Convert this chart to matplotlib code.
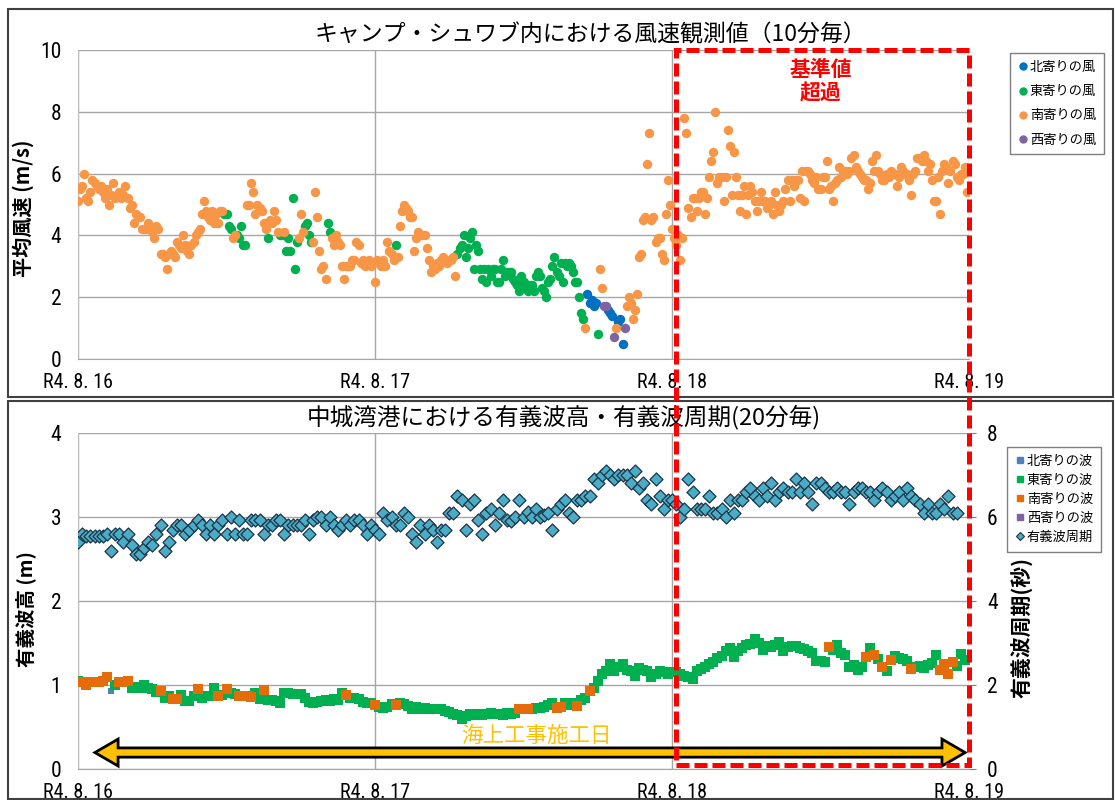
import numpy as np
import matplotlib
matplotlib.use('Agg')
import matplotlib.pyplot as plt
from matplotlib import font_manager
from matplotlib.patches import Rectangle, Polygon
from matplotlib.lines import Line2D

JP = 'Noto Sans CJK JP'
_names = {f.name for f in font_manager.fontManager.ttflist}
NUM = 'Liberation Sans'
for _cand in ['Liberation Sans Narrow', 'Roboto Condensed', 'Open Sans Condensed']:
    if _cand in _names:
        NUM = _cand
        break
plt.rcParams['font.family'] = [JP, 'DejaVu Sans']

# ---------------- data ----------------
x_tick_labels = ['R4. 8. 16', 'R4. 8. 17', 'R4. 8. 18', 'R4. 8. 19']
title_wind = 'キャンプ・シュワブ内における風速観測値（10分毎）'
title_wave = '中城湾港における有義波高・有義波周期(20分毎)'

wind_labels = {'N': '北寄りの風', 'E': '東寄りの風', 'S': '南寄りの風', 'W': '西寄りの風'}
wave_labels = {'N': '北寄りの波', 'E': '東寄りの波', 'S': '南寄りの波', 'W': '西寄りの波'}
period_label = '有義波周期'

# 10-minute mean wind speed (m/s), two hours per row
wind_day1 = [5.1, 5.5, 5.6, 6.0, 5.2, 5.1, 5.4, 5.8, 5.7, 5.6, 5.5, 5.6,
             5.4, 5.2, 5.5, 5.0, 5.3, 5.7, 5.2, 5.3, 5.4, 5.2, 5.3, 5.6,
             5.2, 4.9, 5.0, 4.4, 4.7, 4.6, 4.6, 4.2, 4.2, 4.2, 4.4, 4.3,
             4.1, 3.9, 4.3, 4.2, 3.4, 3.4, 3.3, 2.9, 3.4, 3.5, 3.4, 3.3,
             3.8, 3.7, 3.6, 4.0, 3.7, 3.5, 3.4, 3.7, 3.8, 4.0, 4.1, 4.2,
             4.7, 5.1, 4.8, 4.6, 4.5, 4.8, 4.4, 4.7, 4.4, 4.8, 4.8, 4.7,
             4.7, 4.3, 4.2, 3.9, 4.0, 4.0, 3.9, 4.3, 3.7, 3.7, 5.0, 5.0,
             5.7, 5.4, 4.7, 5.0, 4.9, 4.8, 4.4, 4.2, 3.9, 4.5, 4.4, 4.8,
             4.5, 4.1, 4.0, 4.0, 4.1, 3.5, 3.9, 3.5, 5.2, 2.9, 3.8, 3.9,
             4.7, 4.1, 4.3, 4.4, 4.0, 3.8, 3.8, 5.4, 4.6, 3.5, 2.9, 3.0,
             2.6, 4.4, 4.1, 3.9, 3.7, 4.0, 3.8, 3.7, 3.0, 2.6, 3.0, 3.0,
             3.0, 3.2, 3.2, 3.8, 3.7, 3.1, 3.2, 3.0, 3.1, 3.2, 3.0, 3.1]
wind_dir_day1 = ['SSSSSS', 'SSSSSS', 'SSSSSS', 'SSSSSS', 'SSSSSS', 'SSSSSS',
                 'SSSSSS', 'SSSSSS', 'SSSSSS', 'SSSSSS', 'SSSSSS', 'SSSSSE',
                 'EEESSE', 'EEEESS', 'SSSSSS', 'SSESSS', 'SSEESE', 'EEEEES',
                 'SSEEEE', 'SSSSSS', 'SEESSS', 'SSSSSE', 'SSSSSS', 'SSSSSS']

wind_day2 = [2.5, 3.2, 3.1, 3.0, 3.2, 3.0, 3.8, 3.5, 3.4, 3.2, 3.7, 3.3,
             4.3, 4.8, 5.0, 4.9, 4.8, 4.6, 4.6, 3.5, 3.9, 4.1, 4.0, 4.0,
             4.0, 3.6, 3.2, 2.8, 3.0, 2.9, 3.1, 3.0, 3.2, 3.3, 3.2, 3.1,
             3.2, 3.2, 3.3, 2.7, 3.4, 3.6, 3.7, 4.0, 3.3, 3.6, 3.9, 4.1,
             2.9, 3.7, 3.5, 2.9, 2.6, 2.9, 2.5, 2.9, 2.7, 2.9, 2.9, 2.5,
             2.5, 2.9, 3.2, 2.7, 2.8, 2.8, 2.8, 2.6, 2.5, 2.4, 2.2, 2.7,
             2.5, 2.3, 2.2, 2.4, 2.4, 2.2, 2.7, 2.8, 2.7, 2.3, 2.2, 2.0,
             2.5, 2.6, 3.0, 3.3, 2.8, 2.7, 3.1, 2.5, 3.1, 3.0, 3.1, 3.0,
             2.8, 2.5, 2.5, 2.0, 1.5, 1.3, 1.0, 2.1, 1.8, 1.9, 1.7, 1.8,
             0.8, 2.9, 2.3, 1.7, 1.7, 1.6, 1.5, 1.4, 0.7, 1.0, 1.2, 1.3,
             0.5, 1.0, 1.7, 2.0, 1.8, 1.3, 1.6, 2.1, 3.3, 3.4, 4.5, 4.6,
             6.3, 7.3, 4.5, 4.6, 3.8, 3.9, 3.9, 3.4, 3.2, 4.7, 5.8, 5.0]
wind_dir_day2 = ['SSSSSS', 'SSSSES', 'SSSSSS', 'SSSSSS', 'SSSSSS', 'SSSSSS',
                 'SSSSEE', 'EEEEEE', 'EEEEEE', 'EEEEEE', 'EEEEEE', 'EEEEEE',
                 'EEEEEE', 'EEEEEE', 'EEEEEE', 'EEEEEE', 'EEEEEE', 'SNNNNN',
                 'ESSWWN', 'NNWSNN', 'NWSSSS', 'SSSSSS', 'SSSSSS', 'SSSSSS']

wind_day3 = [4.2, 3.9, 3.7, 4.0, 3.2, 3.9, 7.8, 7.3, 4.9, 4.6, 5.2, 5.2,
             4.8, 5.2, 5.4, 5.4, 4.7, 5.2, 5.9, 6.4, 6.7, 8.0, 5.7, 5.9,
             5.9, 5.1, 5.9, 7.4, 6.9, 5.3, 6.7, 5.9, 5.3, 4.8, 5.3, 5.6,
             4.7, 5.3, 5.6, 5.4, 5.1, 4.8, 5.1, 5.4, 5.1, 5.1, 4.9, 5.0,
             5.1, 4.7, 5.4, 5.0, 4.8, 5.0, 5.1, 5.5, 5.8, 5.1, 5.8, 5.6,
             5.8, 5.8, 5.2, 6.1, 5.1, 6.1, 6.1, 6.0, 5.8, 5.7, 5.9, 5.5,
             5.5, 5.9, 5.9, 6.4, 5.5, 5.6, 5.1, 5.7, 5.8, 6.2, 5.9, 6.1,
             6.1, 6.0, 6.1, 6.5, 6.6, 6.2, 6.1, 6.0, 5.9, 5.8, 5.8, 5.5,
             5.7, 6.4, 6.1, 6.6, 6.1, 6.0, 5.8, 5.8, 6.0, 5.9, 6.1, 6.0,
             6.0, 5.6, 5.9, 6.2, 6.1, 6.0, 6.0, 5.8, 5.3, 6.0, 6.1, 6.5,
             6.5, 6.4, 6.6, 6.4, 6.1, 6.3, 5.8, 5.1, 5.1, 5.9, 4.7, 6.1,
             6.3, 6.2, 5.7, 6.1, 6.4, 6.3, 5.9, 5.8, 6.0, 6.0, 6.2, 5.4]
wind_dir_day3 = ['SSSSSS'] * 24

# 20-minute significant wave height (m) and wave direction, four hours per row
wave_day1 = [1.05, 1.03, 1.00, 1.03, 1.03, 1.04, 1.05, 1.09, 0.93, 1.00, 1.03, 1.04,
             1.05, 0.97, 0.98, 0.97, 1.00, 0.97, 0.95, 0.92, 0.93, 0.85, 0.87, 0.83,
             0.83, 0.88, 0.81, 0.81, 0.87, 0.95, 0.85, 0.87, 0.87, 0.96, 0.87, 0.88,
             0.95, 0.90, 0.89, 0.87, 0.87, 0.87, 0.86, 0.91, 0.83, 0.94, 0.82, 0.82,
             0.81, 0.79, 0.90, 0.90, 0.89, 0.89, 0.89, 0.85, 0.80, 0.79, 0.80, 0.81,
             0.82, 0.81, 0.83, 0.82, 0.90, 0.88, 0.85, 0.84, 0.83, 0.80, 0.78, 0.78]
wave_dir_day1 = ['ESSSSSSSNESS', 'SEEEEEEESEES', 'SEEEESEEEESE',
                 'SEESSSSEESEE', 'EEEEEEEEEEEE', 'EEEEESEEEEEE']
wave_day2 = [0.76, 0.74, 0.73, 0.74, 0.77, 0.76, 0.78, 0.77, 0.75, 0.71, 0.74, 0.72,
             0.73, 0.72, 0.71, 0.72, 0.71, 0.69, 0.68, 0.66, 0.64, 0.60, 0.63, 0.65,
             0.64, 0.65, 0.64, 0.65, 0.67, 0.66, 0.65, 0.64, 0.67, 0.66, 0.67, 0.71,
             0.71, 0.71, 0.71, 0.73, 0.73, 0.74, 0.76, 0.78, 0.73, 0.74, 0.78, 0.76,
             0.78, 0.75, 0.82, 0.84, 0.93, 0.97, 1.05, 1.13, 1.17, 1.25, 1.17, 1.21,
             1.25, 1.18, 1.17, 1.11, 1.20, 1.18, 1.17, 1.10, 1.13, 1.17, 1.15, 1.13]
wave_dir_day2 = ['SEEEESEEEEEE', 'EEEEEEEEEEEE', 'EEEEEEEEEEES',
                 'SSEEEEEESSEE', 'ESEESEEEEEEE', 'EEEEEEEEEEEE']
wave_day3 = [1.15, 1.15, 1.13, 1.11, 1.09, 1.07, 1.17, 1.19, 1.21, 1.25, 1.27, 1.32,
             1.34, 1.40, 1.44, 1.33, 1.40, 1.44, 1.48, 1.49, 1.55, 1.50, 1.42, 1.46,
             1.45, 1.48, 1.51, 1.40, 1.45, 1.47, 1.46, 1.44, 1.43, 1.40, 1.38, 1.29,
             1.28, 1.27, 1.45, 1.42, 1.48, 1.38, 1.36, 1.22, 1.24, 1.18, 1.22, 1.33,
             1.44, 1.36, 1.31, 1.22, 1.17, 1.30, 1.34, 1.32, 1.31, 1.29, 1.19, 1.22,
             1.23, 1.20, 1.24, 1.26, 1.36, 1.18, 1.25, 1.13, 1.27, 1.23, 1.37, 1.30]
wave_dir_day3 = ['EEEEEEEEEEEE', 'EEEEEEEEEEEE', 'EEEEEEEEEEEE',
                 'EESEEEEEEEES', 'ESESESEEEESE', 'EEEEESSSSEEE']

# 20-minute significant wave period (s)
period_day1 = [5.4, 5.6, 5.55, 5.55, 5.55, 5.55, 5.55, 5.6, 5.2, 5.6, 5.6, 5.4,
               5.6, 5.33, 5.13, 5.13, 5.26, 5.4, 5.33, 5.6, 5.8, 5.2, 5.4, 5.7,
               5.8, 5.82, 5.6, 5.7, 5.82, 5.92, 5.8, 5.6, 5.8, 5.6, 5.8, 5.92,
               5.6, 6.0, 5.6, 5.92, 5.6, 5.6, 5.92, 5.92, 5.92, 5.6, 5.8, 5.8,
               5.92, 5.92, 5.6, 5.8, 5.8, 5.8, 5.8, 5.92, 5.6, 5.92, 6.0, 6.0,
               5.8, 6.0, 5.8, 5.7, 5.8, 5.92, 5.8, 5.92, 5.92, 5.8, 5.6, 5.8]
period_day2 = [5.7, 5.6, 6.1, 5.92, 6.0, 5.8, 5.8, 6.1, 6.0, 5.6, 5.4, 5.8,
               5.6, 5.8, 5.7, 5.4, 5.7, 5.7, 6.1, 6.1, 6.5, 6.4, 5.7, 6.3,
               6.4, 5.92, 5.6, 6.1, 6.2, 5.8, 6.1, 6.4, 5.92, 5.9, 6.0, 6.4,
               6.0, 6.13, 6.0, 6.2, 6.0, 6.05, 6.1, 5.7, 6.2, 6.3, 6.4, 6.1,
               6.0, 6.4, 6.4, 6.5, 6.5, 6.9, 6.8, 7.0, 7.1, 7.0, 6.9, 7.0,
               7.0, 7.0, 6.8, 7.1, 6.7, 6.8, 6.4, 6.3, 6.9, 6.5, 6.2, 6.4]
period_day3 = [6.4, 6.3, 6.0, 6.2, 6.9, 6.6, 6.2, 6.2, 6.2, 6.5, 6.1, 6.1,
               6.2, 6.0, 6.4, 6.1, 6.4, 6.4, 6.6, 6.7, 6.5, 6.4, 6.7, 6.5,
               6.8, 6.4, 6.6, 6.7, 6.6, 6.6, 6.9, 6.6, 6.8, 6.6, 6.3, 6.8,
               6.8, 6.7, 6.6, 6.6, 6.7, 6.6, 6.6, 6.3, 6.6, 6.7, 6.7, 6.6,
               6.6, 6.4, 6.6, 6.7, 6.6, 6.4, 6.5, 6.6, 6.4, 6.7, 6.5, 6.4,
               6.3, 6.1, 6.3, 6.1, 6.1, 6.3, 6.2, 6.5, 6.1, 6.1]

wind_colors = {'N': '#0070C0', 'E': '#00B050', 'S': '#F79646', 'W': '#8064A2'}
wave_colors = {'N': '#4F81BD', 'E': '#00B050', 'S': '#E46C0A', 'W': '#8064A2'}

# ---------------- assemble ----------------
def days_series(day_lists, per_day):
    xs, ys = [], []
    for d, vals in enumerate(day_lists):
        xs.append(d + np.arange(len(vals)) / per_day)
        ys.append(np.asarray(vals, float))
    return np.concatenate(xs), np.concatenate(ys)

def codes(*day_rows):
    return np.array(list(''.join(''.join(r) for r in day_rows)))

wind_x, wind_v = days_series([wind_day1, wind_day2, wind_day3], 144)
wind_d = codes(wind_dir_day1, wind_dir_day2, wind_dir_day3)
wave_x, wave_h = days_series([wave_day1, wave_day2, wave_day3], 72)
wave_d = codes(wave_dir_day1, wave_dir_day2, wave_dir_day3)
per_x, per_v = days_series([period_day1, period_day2, period_day3], 72)

W, H = 1115, 800
fig = plt.figure(figsize=(W / 100, H / 100), dpi=100)
fig.patch.set_facecolor('white')

ax1 = fig.add_axes([78 / W, 1 - 359 / H, 891 / W, 309 / H])
ax2 = fig.add_axes([78 / W, 1 - 769 / H, 891 / W, 336 / H])
ax2r = ax2.twinx()

GRID = '#A6A6A6'
TICKFONT = dict(family=[NUM, JP], fontsize=14.5)
for ax in (ax1, ax2):
    ax.set_xlim(0, 3)
    ax.set_xticks([0, 1, 2, 3])
    ax.set_xticklabels(x_tick_labels, **TICKFONT)
    ax.grid(True, color=GRID, lw=1.0)
    ax.set_axisbelow(True)
    ax.tick_params(axis='both', length=0)
    ax.tick_params(axis='x', pad=10)
    ax.tick_params(axis='y', pad=12)
    for s in ('top', 'right'):
        ax.spines[s].set_visible(False)
    ax.spines['left'].set_color('#BFBFBF')
    ax.spines['bottom'].set_color(GRID)

ax1.set_ylim(0, 10)
ax1.set_yticks(range(0, 11, 2))
ax1.set_yticklabels([str(v) for v in range(0, 11, 2)], family=[NUM, JP], fontsize=15.5)
ax2.set_ylim(0, 4)
ax2.set_yticks(range(0, 5))
ax2.set_yticklabels([str(v) for v in range(0, 5)], family=[NUM, JP], fontsize=15.5)
ax2r.set_ylim(0, 8)
ax2r.set_yticks(range(0, 9, 2))
ax2r.set_yticklabels([str(v) for v in range(0, 9, 2)], family=[NUM, JP], fontsize=15.5)
ax2r.tick_params(axis='y', length=5, color='#7F7F7F', pad=8)
for s in ('top', 'left', 'bottom', 'right'):
    ax2r.spines[s].set_visible(False)

# wind scatter
wind_handles = []
for code in ['N', 'E', 'S', 'W']:
    m = wind_d == code
    ax1.scatter(wind_x[m], wind_v[m], s=46, color=wind_colors[code], linewidths=0, zorder=3)
    wind_handles.append(Line2D([], [], ls='', marker='o', ms=5, color=wind_colors[code],
                               label=wind_labels[code]))

# wave scatter
wave_handles = []
for code in ['N', 'E', 'S', 'W']:
    m = wave_d == code
    ax2.scatter(wave_x[m], wave_h[m], s=(16 if code == 'N' else 48), marker='s',
                color=wave_colors[code], linewidths=0, zorder=3)
    wave_handles.append(Line2D([], [], ls='', marker='s', ms=5, color=wave_colors[code],
                               label=wave_labels[code]))
ax2r.scatter(per_x, per_v, s=44, marker='D', facecolor='#4BACC6', edgecolor='#1C3346',
             linewidths=0.9, zorder=4)
wave_handles.append(Line2D([], [], ls='', marker='D', ms=4.5, markerfacecolor='#4BACC6',
                           markeredgecolor='#1C3346', markeredgewidth=0.8, label=period_label))

# axis labels
ax1.set_ylabel('平均風速 (m/s)', fontsize=14.5, fontweight='bold')
ax1.yaxis.set_label_coords((34 - 78) / 891, (359 - 208) / 309)
ax2.set_ylabel('有義波高 (m)', fontsize=14, fontweight='bold')
ax2.yaxis.set_label_coords((36 - 78) / 891, (769 - 609) / 336)
ax2r.set_ylabel('有義波周期(秒)', fontsize=15, fontweight='bold', rotation=90)
ax2r.yaxis.set_label_coords((1011 - 78) / 891, (769 - 627) / 336)

# titles
fig.text(590 / W, 1 - 35 / H, title_wind, ha='center', va='center', fontsize=16.5)
fig.text(564 / W, 1 - 418 / H, title_wave, ha='center', va='center', fontsize=17)

# legends
leg_kw = dict(loc='upper left', frameon=True, fancybox=False, edgecolor='#7F7F7F',
              fontsize=9.5, handletextpad=0.1, handlelength=0.8, borderpad=0.6,
              borderaxespad=0, framealpha=1)
l1 = fig.legend(handles=wind_handles, bbox_to_anchor=(1010 / W, 1 - 53 / H),
                labelspacing=0.85, **leg_kw)
l2 = fig.legend(handles=wave_handles, bbox_to_anchor=(1007 / W, 1 - 447 / H),
                labelspacing=0.45, **leg_kw)
for l in (l1, l2):
    l.get_frame().set_linewidth(1.0)

# construction-day arrow (double headed) in data coords of ax2
x0, x1 = 0.057, 2.987
yc, bh, hh, hl = 0.196, 0.055, 0.16, 0.078
arrow_pts = [(x0, yc), (x0 + hl, yc + hh), (x0 + hl, yc + bh), (x1 - hl, yc + bh),
             (x1 - hl, yc + hh), (x1, yc), (x1 - hl, yc - hh), (x1 - hl, yc - bh),
             (x0 + hl, yc - bh), (x0 + hl, yc - hh)]
ax2.add_patch(Polygon(arrow_pts, closed=True, facecolor='#FFC000', edgecolor='black',
                      lw=2.0, zorder=5, clip_on=False))
ax2.text(1.545, 0.40, '海上工事施工日', color='#FFC000', fontsize=15.5, ha='center',
         va='center', zorder=6)

# red "exceeded" box spanning both panels
fig.canvas.draw()
inv = fig.transFigure.inverted()
p_bl = inv.transform(ax2.transData.transform((2.012, 0.05)))
p_tr = inv.transform(ax1.transData.transform((3.0, 10.0)))
fig.add_artist(Rectangle((p_bl[0], p_bl[1]), p_tr[0] - p_bl[0], p_tr[1] - p_bl[1],
                         transform=fig.transFigure, fill=False, edgecolor='#FF0000',
                         lw=3.6, linestyle=(0, (2.6, 1.0)), zorder=20))
ax1.text(2.5, 9.0, '基準値\n超過', color='#FF0000', fontsize=15, fontweight='bold',
         ha='center', va='center', linespacing=1.15, zorder=6)

# outer chart frames
fig.add_artist(Rectangle((8 / W, 1 - 397 / H), 1105 / W, 388 / H, transform=fig.transFigure,
                         fill=False, edgecolor='#404040', lw=1.5, zorder=0))
fig.add_artist(Rectangle((8 / W, 1 - 799 / H), 1105 / W, 398 / H, transform=fig.transFigure,
                         fill=False, edgecolor='#404040', lw=1.5, zorder=0))

fig.savefig('out.png', dpi=100, facecolor='white')
